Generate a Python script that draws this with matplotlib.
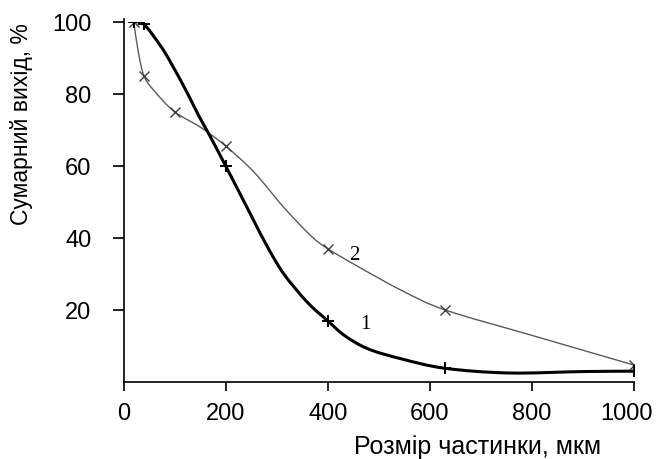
import matplotlib
matplotlib.use("Agg")
import matplotlib.pyplot as plt
from matplotlib.path import Path
from matplotlib.patches import PathPatch
from matplotlib.transforms import ScaledTranslation

# measured points (markers)
x1_pts = [20, 40, 200, 400, 630, 1000]
y1_pts = [100, 99.3, 60, 17, 3.8, 3]
x2_pts = [20, 40, 100, 200, 400, 630, 1000]
y2_pts = [100, 85, 75, 65.5, 37, 20, 4.7]

# curve traces
x1_line = [20, 40, 72, 92, 124, 147, 167, 200, 249, 282, 315, 361, 400, 433, 479, 545, 630, 755, 900, 1000]
y1_line = [100, 99.3, 93.4, 88.8, 80.5, 74, 68.9, 60, 46.5, 37.5, 29.8, 22, 17, 12.9, 9.2, 6.4, 3.8, 2.5, 2.9, 3]
x2_line = [20, 29, 40, 59, 100, 151, 200, 256, 315, 367, 400, 460, 545, 630, 801, 1000]
y2_line = [100, 91.6, 85, 81, 75, 70.7, 65.5, 58.2, 48.3, 40.6, 37, 32, 25.4, 20, 12.9, 4.7]

x_ticks = [0, 200, 400, 600, 800, 1000]
y_ticks = [20, 40, 60, 80, 100]


def smooth_path(xs, ys):
    # catmull-rom style bezier through the traced points (like excel smoothed lines)
    pts = list(zip(xs, ys))
    verts = [pts[0]]
    codes = [Path.MOVETO]
    for i in range(len(pts) - 1):
        p0 = pts[max(i - 1, 0)]
        p1 = pts[i]
        p2 = pts[i + 1]
        p3 = pts[min(i + 2, len(pts) - 1)]
        c1 = (p1[0] + (p2[0] - p0[0]) / 6, p1[1] + (p2[1] - p0[1]) / 6)
        c2 = (p2[0] - (p3[0] - p1[0]) / 6, p2[1] - (p3[1] - p1[1]) / 6)
        verts += [c1, c2, p2]
        codes += [Path.CURVE4] * 3
    return Path(verts, codes)


plt.rcParams['font.family'] = ['Liberation Sans', 'DejaVu Sans']

fig = plt.figure(figsize=(6.58, 4.6), dpi=100)
ax = fig.add_axes([123.5 / 658, 77 / 460, 510.5 / 658, 360.3 / 460])

ax.add_patch(PathPatch(smooth_path(x2_line, y2_line), fill=False, ec='#5a5a5a', lw=1.0))
ax.plot(x2_pts, y2_pts, ls='none', marker='x', ms=7, mew=1.0, color='#404040')
ax.add_patch(PathPatch(smooth_path(x1_line, y1_line), fill=False, ec='black', lw=2.2,
                       joinstyle='round', capstyle='round'))
ax.plot(x1_pts, y1_pts, ls='none', marker='+', ms=8, mew=1.4, color='black')

ax.text(452, 35.5, '2', fontsize=15, family='Liberation Serif', va='center', ha='center')
ax.text(473, 16.1, '1', fontsize=15, family='Liberation Serif', va='center', ha='center')

ax.set_xlim(0, 1000)
ax.set_ylim(0, 100)
ax.set_xticks(x_ticks)
ax.set_yticks(y_ticks)
ax.set_xticklabels([str(v) for v in x_ticks], fontsize=17)
ax.set_yticklabels([str(v) for v in y_ticks], fontsize=17)
ax.tick_params(axis='x', direction='out', length=6.5, width=1.2, pad=8)
ax.tick_params(axis='y', direction='out', length=8, width=1.2, pad=15)
for s in ['top', 'right']:
    ax.spines[s].set_visible(False)
for s in ['left', 'bottom']:
    ax.spines[s].set_linewidth(1.2)
ax.spines['left'].set_bounds(0, 100.8)

# nudge the last x label so it stays inside the picture
lab = ax.xaxis.get_major_ticks()[-1].label1
lab.set_transform(lab.get_transform() + ScaledTranslation(-0.08, 0, fig.dpi_scale_trans))

ax.set_xlabel('Розмір частинки, мкм', fontsize=18)
ax.xaxis.set_label_coords(0.694, -0.145)
ax.set_ylabel('Сумарний вихід, %', fontsize=16.5)
ax.yaxis.set_label_coords(-0.177, 0.719)

fig.savefig('out.png', dpi=100)
